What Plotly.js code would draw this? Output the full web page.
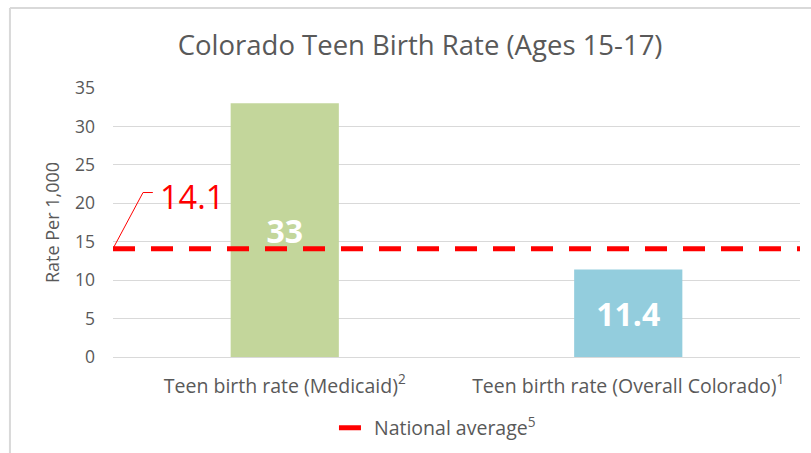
<!DOCTYPE html>
<html><head><meta charset="utf-8">
<script src="https://cdn.plot.ly/plotly-3.0.1.min.js"></script>
<style>html,body{margin:0;padding:0;background:#fff;}#chart{width:811px;height:453px;}</style>
</head><body><div id="chart"></div>
<script>
const categories = ['Teen birth rate (Medicaid)<sup>2</sup>', 'Teen birth rate (Overall Colorado)<sup>1</sup>'];
const rates = [33, 11.4];
const rateLabels = ['33', '11.4'];
const barColors = ['#c3d69b', '#93cddd'];
const nationalAverage = 14.1;
const nationalName = 'National average<sup>5</sup>';
const yTicks = [0, 5, 10, 15, 20, 25, 30, 35];

const FONT = '"Open Sans", Lato, sans-serif';
const GREY = '#595959';

const traces = [
  {
    type: 'bar', x: categories, y: rates, text: rateLabels,
    marker: {color: barColors}, width: 0.315,
    textposition: 'inside', insidetextanchor: 'middle',
    textfont: {family: FONT, size: 32, color: '#ffffff', weight: 'bold'},
    showlegend: false, hoverinfo: 'skip'
  },
  {
    type: 'scatter', mode: 'lines', x: [0, 1], y: [nationalAverage, nationalAverage],
    xaxis: 'x2', yaxis: 'y', name: nationalName,
    line: {color: '#ff0000', width: 5, dash: '22px,16px'},
    hoverinfo: 'skip'
  }
];

const layout = {
  width: 811, height: 453,
  margin: {l: 113, r: 11, t: 88, b: 96, autoexpand: false},
  paper_bgcolor: '#ffffff', plot_bgcolor: '#ffffff',
  font: {family: FONT, color: GREY, size: 15},
  title: {text: 'Colorado Teen Birth Rate (Ages 15-17)', font: {family: FONT, size: 27.5, color: GREY},
          x: 0.518, xanchor: 'center', xref: 'container', y: 0.9, yanchor: 'middle'},
  xaxis: {type: 'category', showgrid: false, zeroline: false, showline: false, ticks: '',
          tickfont: {family: FONT, size: 19.5, color: GREY}, ticklabelstandoff: 15, fixedrange: true,
          automargin: false},
  xaxis2: {overlaying: 'x', range: [0, 1], visible: false, fixedrange: true},
  yaxis: {range: [0, 35], tickvals: yTicks, showgrid: true, gridcolor: '#d9d9d9', gridwidth: 1,
          zeroline: true, zerolinecolor: '#d9d9d9', zerolinewidth: 1, showline: false, ticks: '',
          tickfont: {family: FONT, size: 17.5, color: GREY}, ticklabelstandoff: 17,
          title: {text: 'Rate Per 1,000', font: {family: FONT, size: 18, color: GREY}, standoff: 10},
          fixedrange: true, automargin: false},
  showlegend: true,
  legend: {orientation: 'h', xref: 'container', yref: 'container', x: 0.4118, xanchor: 'left',
           y: 0.055, yanchor: 'middle',
           font: {family: FONT, size: 19.5, color: GREY}, bgcolor: 'rgba(0,0,0,0)'},
  shapes: [
    {type: 'line', xref: 'paper', yref: 'paper', x0: -0.15, x1: -0.15, y0: -0.4, y1: 1.297,
     line: {color: '#d9d9d9', width: 2}},
    {type: 'line', xref: 'paper', yref: 'paper', x0: -0.15, x1: 1.1, y0: 1.297, y1: 1.297,
     line: {color: '#d9d9d9', width: 2}},
    {type: 'path', xref: 'x2', yref: 'y', path: 'M 0,' + nationalAverage + ' L 0.0437,21.4 L 0.058,21.4',
     line: {color: '#ff0000', width: 1}}
  ],
  annotations: [
    {xref: 'x2', yref: 'y', x: 0.0655, y: 20.9, xanchor: 'left', yanchor: 'middle', showarrow: false,
     text: String(nationalAverage), font: {family: FONT, size: 32.5, color: '#ff0000'}}
  ]
};

Plotly.newPlot('chart', traces, layout, {displayModeBar: false, staticPlot: true});
</script></body></html>
